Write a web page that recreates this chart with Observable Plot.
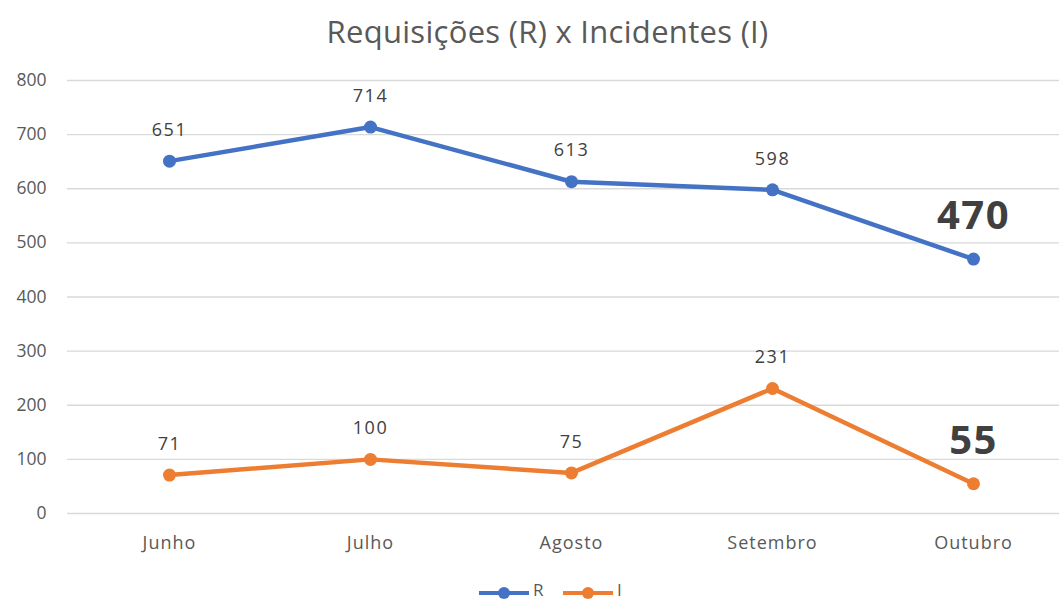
<!DOCTYPE html>
<html><head><meta charset="utf-8">
<script src="https://cdn.jsdelivr.net/npm/d3@7"></script>
<script src="https://cdn.jsdelivr.net/npm/@observablehq/plot@0.6"></script>
<style>
html,body{margin:0;padding:0;background:#fff;overflow:hidden;}
#wrap{position:relative;width:1059px;height:600px;font-family:"Open Sans",sans-serif;}
#title{position:absolute;top:10px;left:18px;width:1059px;text-align:center;font-size:31px;letter-spacing:0.3px;color:#595959;}
#legend{position:absolute;top:581px;left:0;width:1059px;height:30px;}
#chart{position:absolute;top:0;left:0;}
.lg{position:absolute;top:-3px;font-size:17px;color:#595959;}
</style></head>
<body><div id="wrap"><div id="chart"></div><div id="title">Requisições (R) x Incidentes (I)</div><div id="legend"></div></div>
<script>
const months = ["Junho","Julho","Agosto","Setembro","Outubro"];
const seriesR = [651,714,613,598,470];
const seriesI = [71,100,75,231,55];
const yTicks = [0,100,200,300,400,500,600,700,800];
const seriesNames = ["R","I"];
const colors = ["#4472C4","#ED7D31"];

const data = [];
months.forEach((m,i)=>{
  data.push({month:m, value:seriesR[i], s:"R", last:i===months.length-1});
  data.push({month:m, value:seriesI[i], s:"I", last:i===months.length-1});
});
const normal = data.filter(d=>!d.last);
const last = data.filter(d=>d.last);

const plot = Plot.plot({
  width:1059, height:600,
  marginLeft:67, marginRight:0, marginTop:80, marginBottom:87,
  style:{fontFamily:"'Open Sans', sans-serif", color:"#595959", background:"#fff"},
  x:{type:"point", domain:months, range:[168,974], padding:0, label:null},
  y:{domain:[0,800], ticks:yTicks, label:null},
  color:{domain:seriesNames, range:colors},
  marks:[
    Plot.gridY(yTicks,{stroke:"#d9d9d9", strokeOpacity:1, strokeWidth:1.3}),
    Plot.axisY(yTicks,{tickSize:0, tickPadding:21, fontSize:17.5, fill:"#595959", label:null}),
    Plot.axisX({tickSize:0, tickPadding:23, fontSize:18, fill:"#595959", label:null}),
    Plot.line(data,{x:"month", y:"value", z:"s", stroke:"s", strokeWidth:4.5, strokeLinecap:"round", strokeLinejoin:"round"}),
    Plot.dot(data,{x:"month", y:"value", fill:"s", r:6.5, stroke:null}),
    Plot.text(normal,{x:"month", y:"value", text:d=>String(d.value), dy:-31, fontSize:18, fill:"#404040"}),
    Plot.text(last,{x:"month", y:"value", text:d=>String(d.value), dy:-43, fontSize:40, fontWeight:"bold", fill:"#404040"})
  ]
});
// widen letter spacing of tick/data labels to match reference proportions
d3.select(plot).selectAll("g[aria-label='x-axis tick label'] text").style("letter-spacing","1px");
d3.select(plot).selectAll("g[aria-label='text'] text").style("letter-spacing","1.5px");
document.getElementById("chart").appendChild(plot);

const lg = document.getElementById("legend");
const items = [{x:478, name:seriesNames[0], c:colors[0]},{x:562, name:seriesNames[1], c:colors[1]}];
items.forEach(it=>{
  const s = document.createElementNS("http://www.w3.org/2000/svg","svg");
  s.setAttribute("width","52"); s.setAttribute("height","24");
  s.style.position="absolute"; s.style.left=it.x+"px"; s.style.top="0px";
  s.innerHTML = `<line x1="1" y1="12" x2="51" y2="12" stroke="${it.c}" stroke-width="4"/><circle cx="26" cy="12" r="6" fill="${it.c}"/>`;
  lg.appendChild(s);
  const t = document.createElement("div");
  t.className="lg"; t.textContent=it.name; t.style.left=(it.x+55)+"px";
  lg.appendChild(t);
});
</script></body></html>
